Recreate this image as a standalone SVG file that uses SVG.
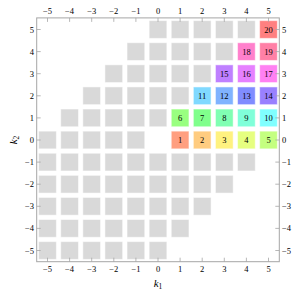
<svg xmlns="http://www.w3.org/2000/svg" width="301" height="296" viewBox="0 0 301 296">
<style>
.g{fill:#d9d9d9;stroke:#ffffff;stroke-opacity:0.5;stroke-width:1}
.c{stroke:#ffffff;stroke-opacity:0.5;stroke-width:1}
.fr{fill:none;stroke:#a6a6a6;stroke-width:1}
.tk{stroke:#a6a6a6;stroke-width:0.8}
text{font-family:"Liberation Serif","Times New Roman",serif;font-size:8.5px;fill:#000}
.n{text-anchor:middle}
.l{text-anchor:end}
.r{text-anchor:start}
.ax{font-size:11px;font-style:italic}
</style>
<rect width="301" height="296" fill="#ffffff"/>
<g id="grey-cells">
<!-- row 5 -->
<rect class="g" x="149.15" y="20.65" width="17.7" height="17.7"/>
<rect class="g" x="171.25" y="20.65" width="17.7" height="17.7"/>
<rect class="g" x="193.35" y="20.65" width="17.7" height="17.7"/>
<rect class="g" x="215.45" y="20.65" width="17.7" height="17.7"/>
<rect class="g" x="237.55" y="20.65" width="17.7" height="17.7"/>
<!-- row 4 -->
<rect class="g" x="127.05" y="42.75" width="17.7" height="17.7"/>
<rect class="g" x="149.15" y="42.75" width="17.7" height="17.7"/>
<rect class="g" x="171.25" y="42.75" width="17.7" height="17.7"/>
<rect class="g" x="193.35" y="42.75" width="17.7" height="17.7"/>
<rect class="g" x="215.45" y="42.75" width="17.7" height="17.7"/>
<!-- row 3 -->
<rect class="g" x="104.95" y="64.85" width="17.7" height="17.7"/>
<rect class="g" x="127.05" y="64.85" width="17.7" height="17.7"/>
<rect class="g" x="149.15" y="64.85" width="17.7" height="17.7"/>
<rect class="g" x="171.25" y="64.85" width="17.7" height="17.7"/>
<rect class="g" x="193.35" y="64.85" width="17.7" height="17.7"/>
<!-- row 2 -->
<rect class="g" x="82.85" y="86.95" width="17.7" height="17.7"/>
<rect class="g" x="104.95" y="86.95" width="17.7" height="17.7"/>
<rect class="g" x="127.05" y="86.95" width="17.7" height="17.7"/>
<rect class="g" x="149.15" y="86.95" width="17.7" height="17.7"/>
<rect class="g" x="171.25" y="86.95" width="17.7" height="17.7"/>
<!-- row 1 -->
<rect class="g" x="60.75" y="109.05" width="17.7" height="17.7"/>
<rect class="g" x="82.85" y="109.05" width="17.7" height="17.7"/>
<rect class="g" x="104.95" y="109.05" width="17.7" height="17.7"/>
<rect class="g" x="127.05" y="109.05" width="17.7" height="17.7"/>
<rect class="g" x="149.15" y="109.05" width="17.7" height="17.7"/>
<!-- row 0 -->
<rect class="g" x="38.65" y="131.15" width="17.7" height="17.7"/>
<rect class="g" x="60.75" y="131.15" width="17.7" height="17.7"/>
<rect class="g" x="82.85" y="131.15" width="17.7" height="17.7"/>
<rect class="g" x="104.95" y="131.15" width="17.7" height="17.7"/>
<rect class="g" x="127.05" y="131.15" width="17.7" height="17.7"/>
<!-- row -1 -->
<rect class="g" x="38.65" y="153.25" width="17.7" height="17.7"/>
<rect class="g" x="60.75" y="153.25" width="17.7" height="17.7"/>
<rect class="g" x="82.85" y="153.25" width="17.7" height="17.7"/>
<rect class="g" x="104.95" y="153.25" width="17.7" height="17.7"/>
<rect class="g" x="127.05" y="153.25" width="17.7" height="17.7"/>
<rect class="g" x="149.15" y="153.25" width="17.7" height="17.7"/>
<rect class="g" x="171.25" y="153.25" width="17.7" height="17.7"/>
<rect class="g" x="193.35" y="153.25" width="17.7" height="17.7"/>
<rect class="g" x="215.45" y="153.25" width="17.7" height="17.7"/>
<rect class="g" x="237.55" y="153.25" width="17.7" height="17.7"/>
<!-- row -2 -->
<rect class="g" x="38.65" y="175.35" width="17.7" height="17.7"/>
<rect class="g" x="60.75" y="175.35" width="17.7" height="17.7"/>
<rect class="g" x="82.85" y="175.35" width="17.7" height="17.7"/>
<rect class="g" x="104.95" y="175.35" width="17.7" height="17.7"/>
<rect class="g" x="127.05" y="175.35" width="17.7" height="17.7"/>
<rect class="g" x="149.15" y="175.35" width="17.7" height="17.7"/>
<rect class="g" x="171.25" y="175.35" width="17.7" height="17.7"/>
<rect class="g" x="193.35" y="175.35" width="17.7" height="17.7"/>
<rect class="g" x="215.45" y="175.35" width="17.7" height="17.7"/>
<!-- row -3 -->
<rect class="g" x="38.65" y="197.45" width="17.7" height="17.7"/>
<rect class="g" x="60.75" y="197.45" width="17.7" height="17.7"/>
<rect class="g" x="82.85" y="197.45" width="17.7" height="17.7"/>
<rect class="g" x="104.95" y="197.45" width="17.7" height="17.7"/>
<rect class="g" x="127.05" y="197.45" width="17.7" height="17.7"/>
<rect class="g" x="149.15" y="197.45" width="17.7" height="17.7"/>
<rect class="g" x="171.25" y="197.45" width="17.7" height="17.7"/>
<rect class="g" x="193.35" y="197.45" width="17.7" height="17.7"/>
<!-- row -4 -->
<rect class="g" x="38.65" y="219.55" width="17.7" height="17.7"/>
<rect class="g" x="60.75" y="219.55" width="17.7" height="17.7"/>
<rect class="g" x="82.85" y="219.55" width="17.7" height="17.7"/>
<rect class="g" x="104.95" y="219.55" width="17.7" height="17.7"/>
<rect class="g" x="127.05" y="219.55" width="17.7" height="17.7"/>
<rect class="g" x="149.15" y="219.55" width="17.7" height="17.7"/>
<rect class="g" x="171.25" y="219.55" width="17.7" height="17.7"/>
<!-- row -5 -->
<rect class="g" x="38.65" y="241.65" width="17.7" height="17.7"/>
<rect class="g" x="60.75" y="241.65" width="17.7" height="17.7"/>
<rect class="g" x="82.85" y="241.65" width="17.7" height="17.7"/>
<rect class="g" x="104.95" y="241.65" width="17.7" height="17.7"/>
<rect class="g" x="127.05" y="241.65" width="17.7" height="17.7"/>
<rect class="g" x="149.15" y="241.65" width="17.7" height="17.7"/>
</g>
<g id="cell-1"><rect class="c" fill="#ff9f80" x="171.25" y="131.15" width="17.7" height="17.7"/><text class="n" x="180.1" y="143">1</text></g>
<g id="cell-2"><rect class="c" fill="#ffcc80" x="193.35" y="131.15" width="17.7" height="17.7"/><text class="n" x="202.2" y="143">2</text></g>
<g id="cell-3"><rect class="c" fill="#fff280" x="215.45" y="131.15" width="17.7" height="17.7"/><text class="n" x="224.3" y="143">3</text></g>
<g id="cell-4"><rect class="c" fill="#e6ff80" x="237.55" y="131.15" width="17.7" height="17.7"/><text class="n" x="246.4" y="143">4</text></g>
<g id="cell-5"><rect class="c" fill="#c4ff80" x="259.65" y="131.15" width="17.7" height="17.7"/><text class="n" x="268.5" y="143">5</text></g>
<g id="cell-6"><rect class="c" fill="#99ff80" x="171.25" y="109.05" width="17.7" height="17.7"/><text class="n" x="180.1" y="120.9">6</text></g>
<g id="cell-7"><rect class="c" fill="#80ff8c" x="193.35" y="109.05" width="17.7" height="17.7"/><text class="n" x="202.2" y="120.9">7</text></g>
<g id="cell-8"><rect class="c" fill="#80ffb3" x="215.45" y="109.05" width="17.7" height="17.7"/><text class="n" x="224.3" y="120.9">8</text></g>
<g id="cell-9"><rect class="c" fill="#80ffd9" x="237.55" y="109.05" width="17.7" height="17.7"/><text class="n" x="246.4" y="120.9">9</text></g>
<g id="cell-10"><rect class="c" fill="#80ffff" x="259.65" y="109.05" width="17.7" height="17.7"/><text class="n" x="268.5" y="120.9">10</text></g>
<g id="cell-11"><rect class="c" fill="#80d9ff" x="193.35" y="86.95" width="17.7" height="17.7"/><text class="n" x="202.2" y="98.8">11</text></g>
<g id="cell-12"><rect class="c" fill="#80b3ff" x="215.45" y="86.95" width="17.7" height="17.7"/><text class="n" x="224.3" y="98.8">12</text></g>
<g id="cell-13"><rect class="c" fill="#808cff" x="237.55" y="86.95" width="17.7" height="17.7"/><text class="n" x="246.4" y="98.8">13</text></g>
<g id="cell-14"><rect class="c" fill="#9980ff" x="259.65" y="86.95" width="17.7" height="17.7"/><text class="n" x="268.5" y="98.8">14</text></g>
<g id="cell-15"><rect class="c" fill="#bf80ff" x="215.45" y="64.85" width="17.7" height="17.7"/><text class="n" x="224.3" y="76.7">15</text></g>
<g id="cell-16"><rect class="c" fill="#e680ff" x="237.55" y="64.85" width="17.7" height="17.7"/><text class="n" x="246.4" y="76.7">16</text></g>
<g id="cell-17"><rect class="c" fill="#ff80f2" x="259.65" y="64.85" width="17.7" height="17.7"/><text class="n" x="268.5" y="76.7">17</text></g>
<g id="cell-18"><rect class="c" fill="#ff80cc" x="237.55" y="42.75" width="17.7" height="17.7"/><text class="n" x="246.4" y="54.6">18</text></g>
<g id="cell-19"><rect class="c" fill="#ff80a6" x="259.65" y="42.75" width="17.7" height="17.7"/><text class="n" x="268.5" y="54.6">19</text></g>
<g id="cell-20"><rect class="c" fill="#ff8080" x="259.65" y="20.65" width="17.7" height="17.7"/><text class="n" x="268.5" y="32.5">20</text></g>
<g id="connectors"></g>
<g id="frame">
<rect class="fr" x="36.7" y="17.9" width="242.6" height="243.8"/>
<path class="tk" d="M47.5 17.9v4M69.6 17.9v4M91.7 17.9v4M113.8 17.9v4M135.9 17.9v4M158 17.9v4M180.1 17.9v4M202.2 17.9v4M224.3 17.9v4M246.4 17.9v4M268.5 17.9v4
M47.5 261.7v-4M69.6 261.7v-4M91.7 261.7v-4M113.8 261.7v-4M135.9 261.7v-4M158 261.7v-4M180.1 261.7v-4M202.2 261.7v-4M224.3 261.7v-4M246.4 261.7v-4M268.5 261.7v-4
M36.7 29.5h4M36.7 51.6h4M36.7 73.7h4M36.7 95.8h4M36.7 117.9h4M36.7 140h4M36.7 162.1h4M36.7 184.2h4M36.7 206.3h4M36.7 228.4h4M36.7 250.5h4
M279.3 29.5h-4M279.3 51.6h-4M279.3 73.7h-4M279.3 95.8h-4M279.3 117.9h-4M279.3 140h-4M279.3 162.1h-4M279.3 184.2h-4M279.3 206.3h-4M279.3 228.4h-4M279.3 250.5h-4"/>
</g>
<g id="top-labels">
<text class="n" x="47.5" y="14">−5</text><text class="n" x="69.6" y="14">−4</text><text class="n" x="91.7" y="14">−3</text><text class="n" x="113.8" y="14">−2</text><text class="n" x="135.9" y="14">−1</text><text class="n" x="158" y="14">0</text><text class="n" x="180.1" y="14">1</text><text class="n" x="202.2" y="14">2</text><text class="n" x="224.3" y="14">3</text><text class="n" x="246.4" y="14">4</text><text class="n" x="268.5" y="14">5</text>
</g>
<g id="bottom-labels">
<text class="n" x="47.5" y="271.5">−5</text><text class="n" x="69.6" y="271.5">−4</text><text class="n" x="91.7" y="271.5">−3</text><text class="n" x="113.8" y="271.5">−2</text><text class="n" x="135.9" y="271.5">−1</text><text class="n" x="158" y="271.5">0</text><text class="n" x="180.1" y="271.5">1</text><text class="n" x="202.2" y="271.5">2</text><text class="n" x="224.3" y="271.5">3</text><text class="n" x="246.4" y="271.5">4</text><text class="n" x="268.5" y="271.5">5</text>
</g>
<g id="left-labels">
<text class="l" x="34" y="32.5">5</text><text class="l" x="34" y="54.6">4</text><text class="l" x="34" y="76.7">3</text><text class="l" x="34" y="98.8">2</text><text class="l" x="34" y="120.9">1</text><text class="l" x="34" y="143">0</text><text class="l" x="34" y="165.1">−1</text><text class="l" x="34" y="187.2">−2</text><text class="l" x="34" y="209.3">−3</text><text class="l" x="34" y="231.4">−4</text><text class="l" x="34" y="253.5">−5</text>
</g>
<g id="right-labels">
<text class="r" x="282" y="32.5">5</text><text class="r" x="282" y="54.6">4</text><text class="r" x="282" y="76.7">3</text><text class="r" x="282" y="98.8">2</text><text class="r" x="282" y="120.9">1</text><text class="r" x="282" y="143">0</text><text class="r" x="282" y="165.1">−1</text><text class="r" x="282" y="187.2">−2</text><text class="r" x="282" y="209.3">−3</text><text class="r" x="282" y="231.4">−4</text><text class="r" x="282" y="253.5">−5</text>
</g>
<g id="axis-labels">
<text class="ax" x="158" y="287" text-anchor="middle">k<tspan font-style="normal" font-size="7.5" dy="2">1</tspan></text>
<text class="ax" transform="translate(17 140) rotate(-90)" text-anchor="middle">k<tspan font-style="normal" font-size="7.5" dy="2">2</tspan></text>
</g>
</svg>
